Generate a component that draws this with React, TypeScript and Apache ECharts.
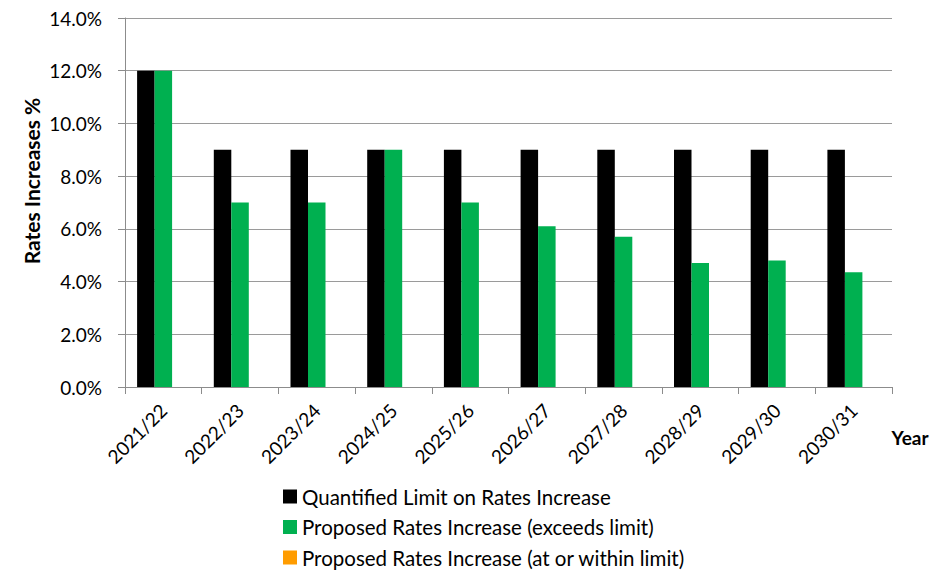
import React, { useEffect, useRef } from "react";
import * as echarts from "echarts";

const categories = ["2021/22", "2022/23", "2023/24", "2024/25", "2025/26", "2026/27", "2027/28", "2028/29", "2029/30", "2030/31"];
const limitValues = [12.0, 9.0, 9.0, 9.0, 9.0, 9.0, 9.0, 9.0, 9.0, 9.0];
const exceedsValues = [12.0, 7.0, 7.0, 9.0, 7.0, 6.1, 5.7, 4.7, 4.8, 4.35];
const withinValues: (number | null)[] = [null, null, null, null, null, null, null, null, null, null];
const seriesNames = [
  "Quantified Limit on Rates Increase",
  "Proposed Rates Increase (exceeds limit)",
  "Proposed Rates Increase (at or within limit)",
];
const yAxisTitle = "Rates Increases %";
const xAxisTitle = "Year";

const FONT = "Lato, 'Liberation Sans', sans-serif";

export default function App() {
  const ref = useRef<HTMLDivElement>(null);
  useEffect(() => {
    if (!ref.current) return;
    const chart = echarts.init(ref.current, undefined, { renderer: "svg" });
    chart.setOption({
      animation: false,
      textStyle: { fontFamily: FONT },
      grid: { left: 125, right: 57, top: 18, bottom: 186, containLabel: false },
      xAxis: {
        type: "category",
        data: categories,
        axisLine: { lineStyle: { color: "#8c8c8c", width: 1 } },
        axisTick: { show: true, alignWithLabel: false, length: 7, lineStyle: { color: "#8c8c8c" } },
        axisLabel: { rotate: 45, fontSize: 19, color: "#000", margin: 20, fontFamily: FONT, interval: 0 },
      },
      yAxis: {
        type: "value",
        min: 0,
        max: 14,
        interval: 2,
        axisLine: { show: true, lineStyle: { color: "#8c8c8c" } },
        axisTick: { show: true, length: 7, lineStyle: { color: "#8c8c8c" } },
        splitLine: { lineStyle: { color: "#9a9a9a", width: 1 } },
        axisLabel: {
          fontSize: 19,
          color: "#000",
          margin: 23,
          fontFamily: FONT,
          formatter: (v: number) => v.toFixed(1) + "%",
        },
      },
      legend: {
        orient: "vertical",
        left: 283,
        top: 486,
        height: 86,
        padding: 0,
        itemWidth: 14,
        itemHeight: 14,
        itemGap: 9.5,
        icon: "rect",
        textStyle: { fontSize: 20.5, lineHeight: 21, color: "#000", fontFamily: FONT },
        data: seriesNames,
      },
      graphic: [
        {
          type: "text",
          x: 31,
          y: 181,
          rotation: Math.PI / 2,
          style: {
            text: yAxisTitle,
            fontSize: 21,
            fontWeight: "bold",
            fill: "#000",
            fontFamily: FONT,
            align: "center",
            verticalAlign: "middle",
          },
        },
        {
          type: "text",
          x: 910,
          y: 437,
          style: {
            text: xAxisTitle,
            fontSize: 19,
            fontWeight: "bold",
            fill: "#000",
            fontFamily: FONT,
            align: "center",
            verticalAlign: "middle",
          },
        },
      ],
      series: [
        {
          name: seriesNames[0],
          type: "bar",
          data: limitValues,
          barWidth: 17.5,
          barGap: "0%",
          itemStyle: { color: "#000000" },
        },
        {
          name: seriesNames[1],
          type: "bar",
          data: exceedsValues,
          barWidth: 17.5,
          barGap: "0%",
          itemStyle: { color: "#00B050" },
        },
        {
          name: seriesNames[2],
          type: "bar",
          data: withinValues,
          barWidth: 17.5,
          barGap: "0%",
          itemStyle: { color: "#FF9C00" },
        },
      ],
    });
    return () => chart.dispose();
  }, []);
  return <div ref={ref} style={{ width: 949, height: 573, position: "absolute", left: 0, top: 0 }} />;
}
